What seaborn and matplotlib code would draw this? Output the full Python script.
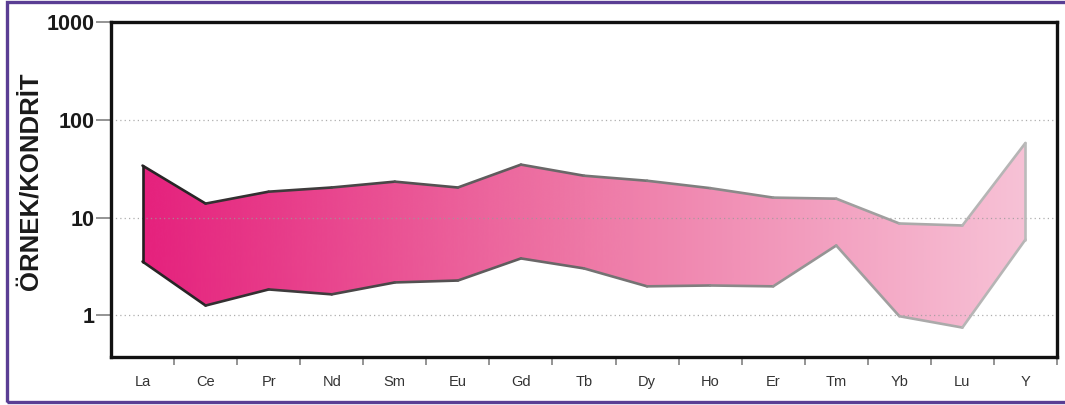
import numpy as np
import pandas as pd
import matplotlib
matplotlib.use("Agg")
import matplotlib.pyplot as plt
from matplotlib.colors import LinearSegmentedColormap, to_rgb, to_hex
from matplotlib.patches import Rectangle
import seaborn as sns

# Chondrite-normalised REE envelope (upper and lower bounds)
elements = ["La", "Ce", "Pr", "Nd", "Sm", "Eu", "Gd", "Tb", "Dy", "Ho", "Er", "Tm", "Yb", "Lu", "Y"]
upper = [34.0, 13.9, 18.4, 20.3, 23.3, 20.3, 34.8, 26.8, 23.8, 20.0, 16.0, 15.6, 8.7, 8.3, 58.0]
lower = [3.55, 1.26, 1.84, 1.64, 2.17, 2.27, 3.82, 3.02, 1.98, 2.02, 1.98, 5.18, 0.98, 0.75, 5.96]
y_ticks = [1, 10, 100, 1000]
y_label = "ÖRNEK/KONDRİT"

sns.set_theme(style="white")
plt.rcParams["font.family"] = ["Liberation Sans", "DejaVu Sans"]

W, H, DPI = 1065, 405, 100
fig = plt.figure(figsize=(W / DPI, H / DPI), dpi=DPI)
ax = fig.add_axes([111 / W, 1 - 357 / H, (1057 - 111) / W, (357 - 22) / H])

x = np.arange(len(elements))
ax.set_yscale("log")
ax.set_xlim(-0.5, len(elements) - 0.5)
ax.set_ylim(0.375, 1000)

# Envelope filled with a horizontal magenta-to-pale-pink gradient
fill_cmap = LinearSegmentedColormap.from_list("ree_fill", ["#E5217D", "#EE78A6", "#F7C2D6"])
poly = ax.fill_between(x, lower, upper, facecolor="none", edgecolor="none")
grad = np.linspace(0, 1, 512).reshape(1, -1)
img = ax.imshow(grad, cmap=fill_cmap, aspect="auto",
                extent=[x[0], x[-1], min(lower) * 0.9, max(upper) * 1.1],
                interpolation="bicubic", zorder=1)
img.set_clip_path(poly.get_paths()[0], transform=ax.transData)

# Outline drawn as segments whose colour fades from near-black to light grey
dark, light = np.array(to_rgb("#231F20")), np.array(to_rgb("#BBBBBB"))
def edge_col(t):
    return to_hex(dark + (light - dark) * t)

rows, palette = [], {}
n = len(elements) - 1
for bound_name, vals in (("u", upper), ("l", lower)):
    for i in range(n):
        key = f"{bound_name}{i}"
        palette[key] = edge_col((i + 0.5) / n)
        rows += [dict(x=x[i], y=vals[i], seg=key), dict(x=x[i + 1], y=vals[i + 1], seg=key)]
rows += [dict(x=x[0], y=lower[0], seg="left"), dict(x=x[0], y=upper[0], seg="left")]
rows += [dict(x=x[-1], y=lower[-1], seg="right"), dict(x=x[-1], y=upper[-1], seg="right")]
palette["left"] = edge_col(0.0)
palette["right"] = edge_col(1.0)
edges = pd.DataFrame(rows)
sns.lineplot(data=edges, x="x", y="y", hue="seg", palette=palette, estimator=None,
             sort=False, legend=False, linewidth=1.9, ax=ax, zorder=3,
             solid_capstyle="round", solid_joinstyle="round")

# Dotted reference lines at each decade
for v in y_ticks[:-1]:
    ax.axhline(v, color="#9A9A9A", linestyle=(0, (1, 2.5)), linewidth=0.9, alpha=0.8, zorder=2)

# Axes styling
for s in ax.spines.values():
    s.set_color("#111111")
    s.set_linewidth(2.4)
    s.set_visible(True)
ax.set_yticks(y_ticks)
ax.set_yticklabels([str(v) for v in y_ticks], fontsize=15.5, fontweight="bold", color="#1a1a1a")
ax.yaxis.set_minor_locator(matplotlib.ticker.NullLocator())
ax.tick_params(axis="y", which="major", direction="out", length=10.5, width=1.1,
               color="#777777", pad=1, left=True)
ax.set_xticks(x)
ax.set_xticklabels(elements, fontsize=10.5, color="#333333")
ax.set_xticks(x + 0.5, minor=True)
ax.tick_params(axis="x", which="major", length=0, pad=13)
ax.tick_params(axis="x", which="minor", direction="out", length=6, width=1.1,
               color="#777777", bottom=True)
ax.set_xlabel("")
ax.set_ylabel(y_label, fontsize=18.5, fontweight="bold", color="#1a1a1a")
ax.yaxis.set_label_coords(-68 / (1057 - 111), 0.525)
ax.grid(False)

# Purple frame around the figure
fig.patches.append(Rectangle((7 / W, 3 / H), 1.05, 1 - 4.5 / H, transform=fig.transFigure,
                             fill=False, edgecolor="#5A3E94", linewidth=2.4, zorder=10))

fig.savefig("out.png", dpi=DPI)
